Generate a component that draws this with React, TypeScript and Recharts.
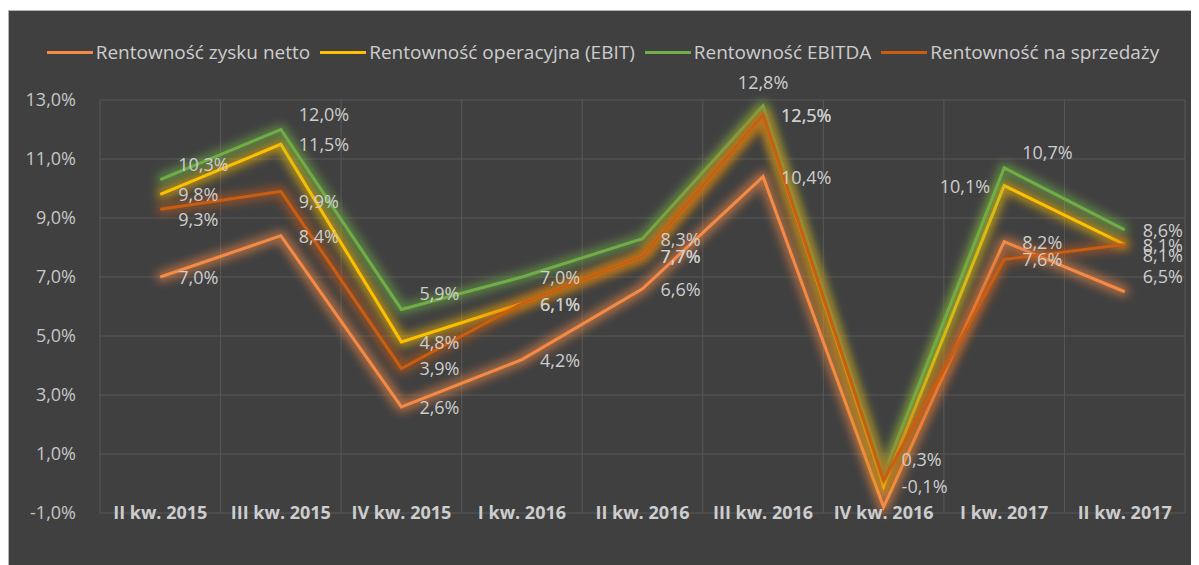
import { LineChart, Line, XAxis, YAxis, CartesianGrid, Legend, LabelList } from "recharts";

const quarters = [
  "II kw. 2015",
  "III kw. 2015",
  "IV kw. 2015",
  "I kw. 2016",
  "II kw. 2016",
  "III kw. 2016",
  "IV kw. 2016",
  "I kw. 2017",
  "II kw. 2017",
];
const seriesNames = [
  "Rentowność zysku netto",
  "Rentowność operacyjna (EBIT)",
  "Rentowność EBITDA",
  "Rentowność na sprzedaży",
];
const netMargin = [7.0, 8.4, 2.6, 4.2, 6.6, 10.4, -0.8, 8.2, 6.5];
const ebitMargin = [9.8, 11.5, 4.8, 6.1, 7.7, 12.5, -0.1, 10.1, 8.1];
const ebitdaMargin = [10.3, 12.0, 5.9, 7.0, 8.3, 12.8, 0.3, 10.7, 8.6];
const salesMargin = [9.3, 9.9, 3.9, 6.1, 7.7, 12.5, 0.1, 7.6, 8.1];
const yTicks = [-1, 1, 3, 5, 7, 9, 11, 13];

// where each data label sits next to its point (r = right, ur = up-right, dr = down-right, t = top, l = left)
const netLabelSide = ["r", "r", "r", "r", "r", "r", "none", "r", "ur"];
const ebitLabelSide = ["r", "r", "r", "r", "r", "r", "r", "l", "r"];
const ebitdaLabelSide = ["ur", "ur", "ur", "r", "r", "t", "ur", "ur", "r"];
const salesLabelSide = ["dr", "dr", "r", "r", "r", "r", "none", "r", "dr"];

const data = quarters.map((q, i) => ({
  q,
  net: netMargin[i],
  ebit: ebitMargin[i],
  ebitda: ebitdaMargin[i],
  sales: salesMargin[i],
}));

const FONT = "'Open Sans', sans-serif";
const fmt = (v: number) => `${v.toFixed(1).replace(".", ",")}%`;

const makeLabel = (sides: string[]) => (props: any) => {
  const { x, y, value, index } = props;
  const side = sides[index];
  if (side === "none" || value == null) return null;
  let dx = 18;
  let dy = 0;
  let anchor = "start";
  if (side === "ur") dy = -16;
  if (side === "dr") dy = 10;
  if (side === "t") {
    dx = 0;
    dy = -24;
    anchor = "middle";
  }
  if (side === "l") {
    dx = -14;
    anchor = "end";
  }
  return (
    <text
      x={x + dx}
      y={y + dy}
      textAnchor={anchor}
      dominantBaseline="central"
      fontFamily={FONT}
      fontSize={18}
      fill="#cdcdcd"
    >
      {fmt(value)}
    </text>
  );
};

const XTick = ({ x, y, payload }: any) => (
  <text
    x={x}
    y={y - 1}
    textAnchor="middle"
    dominantBaseline="central"
    fontFamily={FONT}
    fontSize={18}
    fontWeight="bold"
    fill="#cdcdcd"
  >
    {payload.value}
  </text>
);

const renderLegend = ({ payload }: any) => {
  const items = [...(payload || [])].sort(
    (a: any, b: any) => seriesNames.indexOf(a.value) - seriesNames.indexOf(b.value)
  );
  return (
    <div
      style={{
        display: "flex",
        justifyContent: "center",
        alignItems: "center",
        fontFamily: FONT,
        fontSize: 19,
        color: "#cdcdcd",
        whiteSpace: "nowrap",
      }}
    >
      {items.map((entry: any) => (
        <div key={entry.value} style={{ display: "flex", alignItems: "center", margin: "0 5px" }}>
          <span
            style={{
              display: "inline-block",
              width: 46,
              height: 3,
              background: entry.color,
              marginRight: 3,
            }}
          />
          <span>{entry.value}</span>
        </div>
      ))}
    </div>
  );
};

export default function App() {
  return (
    <div
      style={{
        marginTop: 2,
        width: 1188,
        height: 554,
        background: "#404040",
        borderTop: "1px solid #b4b4b4",
        borderLeft: "1px solid #b4b4b4",
        borderRight: "1px solid #8a8a8a",
      }}
    >
      <svg width={0} height={0} style={{ position: "absolute" }}>
        <defs>
          <filter id="glow" filterUnits="userSpaceOnUse" x={-50} y={-50} width={1300} height={700}>
            <feMorphology in="SourceGraphic" operator="dilate" radius={3} result="thick" />
            <feGaussianBlur in="thick" stdDeviation={5} result="blur" />
            <feComponentTransfer in="blur" result="soft">
              <feFuncA type="linear" slope={0.6} />
            </feComponentTransfer>
            <feMerge>
              <feMergeNode in="soft" />
              <feMergeNode in="SourceGraphic" />
            </feMerge>
          </filter>
        </defs>
      </svg>
      <LineChart width={1188} height={554} data={data} margin={{ top: 89, right: 12, bottom: 22, left: 0 }}>
        <CartesianGrid
          stroke="#585858"
          verticalCoordinatesGenerator={({ offset }: any) =>
            quarters
              .map((_, i) => offset.left + (i * offset.width) / quarters.length)
              .concat(offset.left + offset.width)
          }
        />
        <XAxis
          dataKey="q"
          scale="band"
          interval={0}
          tickLine={false}
          axisLine={false}
          tickSize={0}
          tickMargin={0}
          height={30}
          tick={<XTick />}
        />
        <YAxis
          domain={[-1, 13]}
          ticks={yTicks}
          width={91}
          tickLine={false}
          axisLine={false}
          tickMargin={18}
          tickFormatter={fmt}
          tick={{ fill: "#c6c6c6", fontSize: 18, fontFamily: FONT }}
        />
        <Legend
          verticalAlign="middle"
          layout="horizontal"
          align="center"
          wrapperStyle={{ top: 28, left: 0, width: 1188 }}
          content={renderLegend}
        />
        <Line
          dataKey="net"
          name={seriesNames[0]}
          stroke="#f58a45"
          strokeWidth={3}
          dot={false}
          activeDot={false}
          filter="url(#glow)"
          isAnimationActive={false}
        >
          <LabelList dataKey="net" content={makeLabel(netLabelSide)} />
        </Line>
        <Line
          dataKey="ebit"
          name={seriesNames[1]}
          stroke="#ffc000"
          strokeWidth={3}
          dot={false}
          activeDot={false}
          filter="url(#glow)"
          isAnimationActive={false}
        >
          <LabelList dataKey="ebit" content={makeLabel(ebitLabelSide)} />
        </Line>
        <Line
          dataKey="ebitda"
          name={seriesNames[2]}
          stroke="#70ad47"
          strokeWidth={3}
          dot={false}
          activeDot={false}
          filter="url(#glow)"
          isAnimationActive={false}
        >
          <LabelList dataKey="ebitda" content={makeLabel(ebitdaLabelSide)} />
        </Line>
        <Line
          dataKey="sales"
          name={seriesNames[3]}
          stroke="#c95d12"
          strokeWidth={3}
          dot={false}
          activeDot={false}
          filter="url(#glow)"
          isAnimationActive={false}
        >
          <LabelList dataKey="sales" content={makeLabel(salesLabelSide)} />
        </Line>
      </LineChart>
    </div>
  );
}
